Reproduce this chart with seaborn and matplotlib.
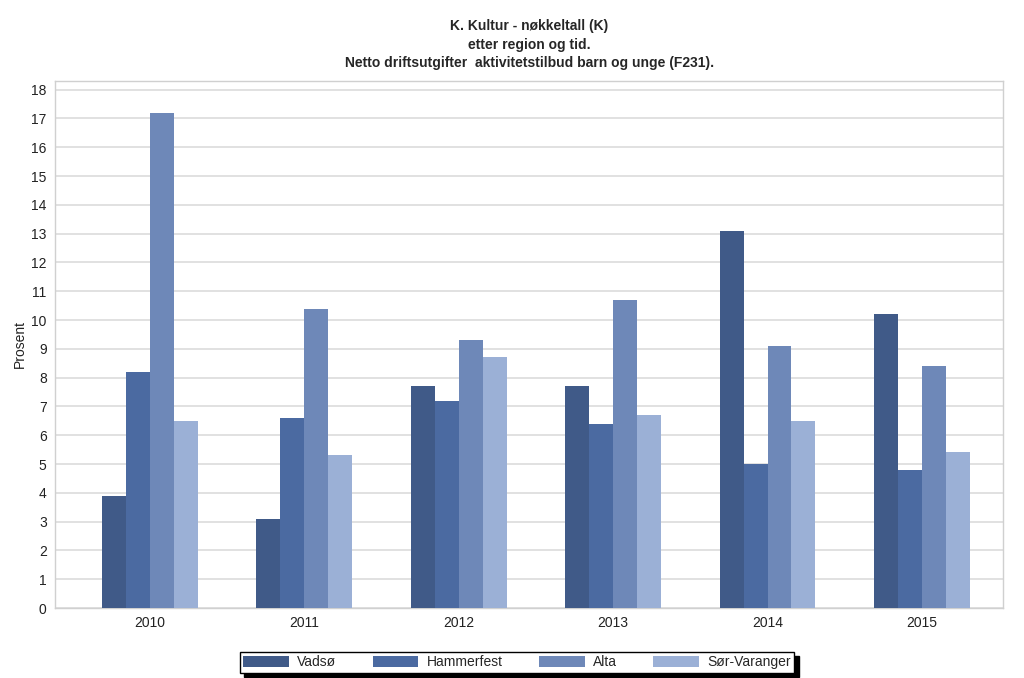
import matplotlib
matplotlib.use("Agg")
import matplotlib.pyplot as plt
import seaborn as sns
import pandas as pd

years = ["2010", "2011", "2012", "2013", "2014", "2015"]
regions = ["Vadsø", "Hammerfest", "Alta", "Sør-Varanger"]
vadso = [3.9, 3.1, 7.7, 7.7, 13.1, 10.2]
hammerfest = [8.2, 6.6, 7.2, 6.4, 5.0, 4.8]
alta = [17.2, 10.4, 9.3, 10.7, 9.1, 8.4]
sor_varanger = [6.5, 5.3, 8.7, 6.7, 6.5, 5.4]
colors = ["#405a88", "#4b6aa1", "#6e88b8", "#9bb0d6"]

series = [vadso, hammerfest, alta, sor_varanger]
rows = []
for reg, vals in zip(regions, series):
    for y, v in zip(years, vals):
        rows.append({"År": y, "Region": reg, "Prosent": v})
df = pd.DataFrame(rows)

sns.set_theme(style="white")
plt.rcParams["font.family"] = ["Liberation Sans", "DejaVu Sans"]

fig = plt.figure(figsize=(10.24, 6.78), dpi=100)
ax = fig.add_axes([55/1024, 1-608/678, (1003-55)/1024, (608-81)/678])

sns.barplot(data=df, x="År", y="Prosent", hue="Region", hue_order=regions,
            palette=colors, width=0.62, saturation=1, linewidth=0,
            ax=ax, legend=True, zorder=3)

ax.set_ylim(0, 18.3)
ax.set_xlim(-0.615, 5.525)
ax.set_yticks(range(0, 19))
ax.yaxis.grid(True, color="#dcdcdc", linewidth=1.2, zorder=0)
ax.set_axisbelow(True)
for s in ax.spines.values():
    s.set_color("#d0d0d0")
    s.set_linewidth(1)
ax.tick_params(axis="both", labelsize=10, colors="#222222", length=0, pad=6)
ax.set_xlabel("")
ax.set_ylabel("Prosent", fontsize=10, color="#222222", labelpad=3)

fig.text(0.517, 0.962, "K. Kultur - nøkkeltall (K)", ha="center", va="center",
         fontsize=10, fontweight="bold")
fig.text(0.517, 0.934, "etter region og tid.", ha="center", va="center",
         fontsize=10, fontweight="bold")
fig.text(0.517, 0.907, "Netto driftsutgifter  aktivitetstilbud barn og unge (F231).",
         ha="center", va="center", fontsize=10, fontweight="bold")

handles, labels = ax.get_legend_handles_labels()
ax.get_legend().remove()
leg = fig.legend(handles, labels, loc="center", bbox_to_anchor=(0.505, 0.023),
                 ncol=4, frameon=True, fancybox=False,
                 shadow={"color": "black", "alpha": 1.0, "ox": 3, "oy": -3},
                 fontsize=10, handlelength=3.3, handleheight=0.9,
                 columnspacing=2.6, handletextpad=0.6, borderpad=0.25)
leg.get_frame().set_edgecolor("black")
leg.get_frame().set_linewidth(1)

fig.savefig("out.png", dpi=100)
